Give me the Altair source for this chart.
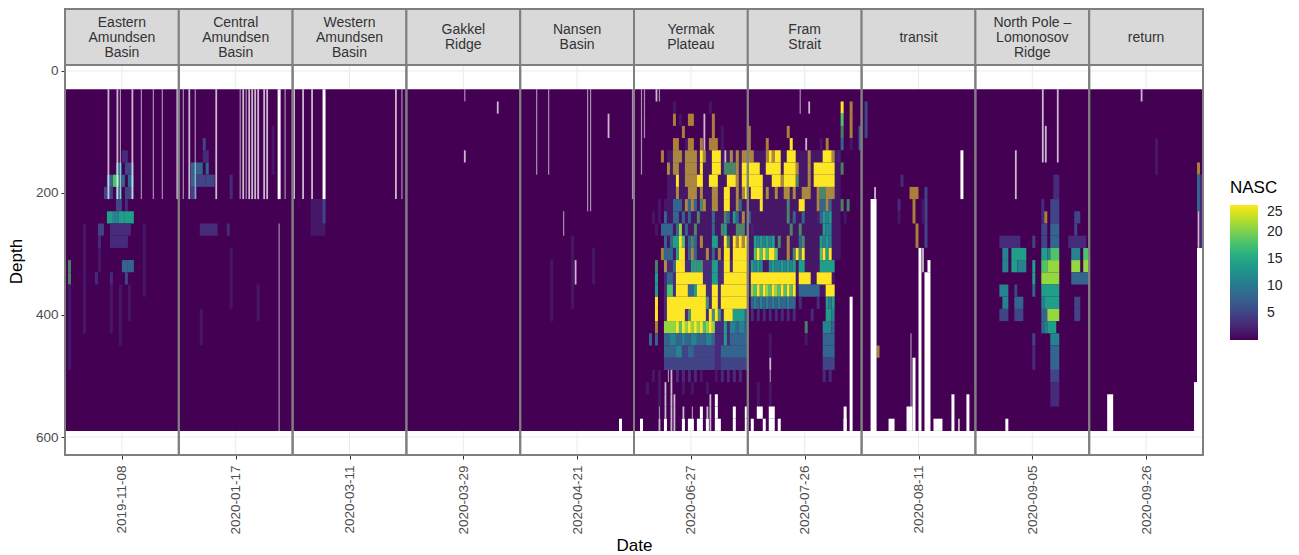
import altair as alt
import pandas as pd

PANELS = ["Eastern\nAmundsen\nBasin", "Central\nAmundsen\nBasin", "Western\nAmundsen\nBasin",
          "Gakkel\nRidge", "Nansen\nBasin", "Yermak\nPlateau", "Fram\nStrait", "transit",
          "North Pole –\nLomonosov\nRidge", "return"]
DATES = ["2019-11-08", "2020-01-17", "2020-03-11", "2020-03-29", "2020-04-21",
         "2020-06-27", "2020-07-26", "2020-08-11", "2020-09-05", "2020-09-26"]
DEPTH_TICKS = [0, 200, 400, 600]
LEGEND_VALUES = [5, 10, 15, 20, 25]
N_COLS = 38
DEPTH_TOP = 30
ROW_STEP = 20
N_ROWS = 28

# cell codes: digits = NASC class; o/h/f = soft (partly covered) columns; W/w/v = missing data (wide to thin)
NASC_OF = {"1": 3, "2": 5, "3": 8, "4": 11, "5": 14, "6": 18, "7": 21, "8": 25, "o": 25, "h": 18, "f": 3}
CELL_OPACITY = {"o": 0.55, "h": 0.65, "f": 0.5}
WIDTH_OF = {"W": 1.0, "w": 0.6, "v": 0.4}
GAP_OPACITY = {"W": 1.0, "w": 0.72, "v": 0.55}

YERMAK_ROWS = [
    "..vv...wv",
    "..vv.........f...........f",
    "..vv.........o.f..oo...w..o",
    "..vv............o......w..o..f",
    "..v..........oo..foo..ow.ooo.f",
    "..v......o...ooo.oooo.8o..888.w.o.o.oo",
    "..v........o.oo..oooo.8...888.hhhho.88",
    "..............8..oooo88..888...888o.88",
    "..............o...ooo.o...oo..88..o.o8",
    "........f.f..333.o3o3.ho..oo..88..o3",
    "......f.f.3..33.3.3..h....3...h3.53.o",
    ".......f.3333.37.3..h.....3..h5...hhh",
    "..........3.35586.3h3.o...55..8h.8o8o8",
    ".........o333.588.3o3...o.3.o.88.88888",
    ".......h..o..3888..5h5h...55..88.88888",
    ".......5...33.888888888...55..88888888",
    ".......5...66.8888335888..88.888888888",
    ".......8...8888888888888h.88.888888888",
    ".......8...888888.h88888.8h8h.88855553",
    ".......o..77778687878786787...5.443443",
    ".....3.3..33443343344333443...5.333333",
    "..........33334422332222222..333333333",
    "..........22222222222222222..222222222",
    "......f.f..vw.1.1.1.1.f....f.1.1.1.1",
    "....f...f.w.w...f..f....f",
    "........f.w.ww...........w.W",
    "........v.w.ww..w..v..W.ww.W.....W...W",
    "..W.....w.W.ww..W.WW.WW.Ww.WW....W...W",
]
YERMAK_UNDER = [(11, 37, 5, 13, "f"), (10, 37, 14, 19, "1"), (10, 37, 20, 22, "1")]

FRAM_ROWS = [
    ".................v",
    ".................v..w..........8..o",
    "...............................6..o",
    "o............o.................h..o..3",
    "o.....o.......8....w....f.o....3..f..3",
    "oo....o8o88..888....o....888o.f",
    "8888..88888.8888o...o.8888888..h",
    "88888...888o8888h...o.8888888",
    ".8888.o..o..oo.o..ooo..ohhooo",
    "....8........h...88....o33o3...h.h",
    "3............h.3..3....f3545....f",
    ".f............h..h.......544",
    "..5454545.h..o...3h.....5454",
    "..68686886...o.h8h8.....6858",
    ".5454..454454545.55.....55555",
    ".888888888888888.8888..88888",
    ".768687687686868.3333333..888",
    ".343434343433433.1.....1..545",
    ".1.1.1.1.1.1.1.1.....1....554",
    "...................h.....4443",
    ".......f...........f.....3333",
    ".......f.................3333",
    ".......w.................2222",
    ".......v.................1.1.",
    "...f...f",
    "...f...f",
    "...WW..WW",
    ".W...W.WW.W.....................W",
]
FRAM_UNDER = [(0, 30, 5, 13, "f"), (0, 28, 14, 16, "f")]
FRAM_PATCHES = [(34, 34, 17, 27, "W"), (32, 32, 26, 27, "W")]

# patches: first column, last column, first row, last row, code
EASTERN_PATCHES = [
    (19, 20, 5, 5, "1"), (17, 18, 6, 6, "3"), (20, 22, 6, 6, "2"), (14, 15, 7, 7, "3"), (16, 17, 7, 7, "6"),
    (18, 19, 7, 7, "3"), (21, 22, 7, 7, "3"), (13, 15, 8, 8, "2"), (17, 18, 8, 8, "3"), (20, 22, 8, 8, "2"),
    (17, 18, 9, 9, "2"), (20, 20, 9, 9, "1"), (14, 15, 10, 10, "5"), (16, 17, 10, 10, "4"), (18, 19, 10, 10, "5"),
    (20, 22, 10, 10, "5"), (11, 12, 11, 11, "2"), (15, 21, 11, 11, "1"), (11, 11, 12, 12, "1"), (15, 20, 12, 12, "1"),
    (11, 11, 13, 14, "f"), (19, 20, 14, 14, "3"), (21, 22, 14, 14, "3"), (1, 1, 14, 14, "h"), (1, 1, 15, 15, "h"),
    (10, 10, 15, 15, "1"), (15, 15, 15, 15, "1"), (20, 20, 15, 15, "2"), (1, 1, 16, 22, "f"), (15, 15, 16, 19, "f"),
    (18, 18, 16, 20, "f"), (21, 21, 16, 18, "f"), (26, 26, 11, 16, "f"), (6, 6, 11, 19, "f"),
    (14, 14, 0, 8, "w"), (17, 17, 0, 8, "w"), (18, 18, 0, 8, "v"), (22, 22, 0, 8, "w"), (25, 25, 0, 8, "v"),
    (29, 29, 0, 8, "v"), (32, 32, 0, 8, "v"), (37, 37, 0, 8, "w"),
]
CENTRAL_PATCHES = [
    (8, 8, 4, 4, "2"), (8, 9, 5, 5, "1"), (4, 7, 6, 6, "3"), (9, 9, 6, 6, "3"), (31, 31, 3, 6, "f"),
    (4, 5, 7, 7, "3"), (6, 8, 7, 7, "2"), (9, 11, 7, 7, "2"), (4, 5, 8, 8, "2"), (17, 17, 7, 8, "1"),
    (7, 12, 11, 11, "1"), (16, 16, 11, 11, "1"), (17, 17, 13, 17, "f"), (7, 7, 18, 20, "f"), (26, 26, 16, 18, "f"),
    (1, 1, 0, 8, "v"), (3, 3, 0, 8, "w"), (5, 5, 0, 8, "v"), (12, 12, 0, 8, "w"), (20, 20, 0, 8, "v"),
    (21, 21, 0, 8, "w"), (22, 22, 0, 8, "v"), (23, 24, 0, 8, "w"), (25, 26, 0, 8, "w"), (28, 28, 0, 8, "w"),
    (29, 29, 0, 8, "w"), (33, 33, 0, 8, "W"), (35, 35, 0, 8, "v"), (33, 33, 11, 27, "v"),
]
WESTERN_PATCHES = [
    (6, 10, 9, 11, "f"), (10, 10, 9, 10, "2"), (0, 0, 0, 8, "w"), (3, 3, 0, 8, "w"), (6, 6, 0, 8, "w"),
    (10, 10, 0, 8, "W"), (34, 34, 0, 8, "w"), (36, 36, 0, 8, "v"),
]
GAKKEL_PATCHES = [(19, 19, 5, 5, "w"), (30, 30, 1, 1, "w"), (19, 19, 0, 0, "v")]
NANSEN_PATCHES = [
    (5, 5, 0, 6, "v"), (9, 9, 0, 6, "v"), (22, 22, 0, 9, "v"), (23, 23, 0, 9, "v"), (29, 29, 2, 3, "w"),
    (37, 37, 0, 8, "v"), (18, 18, 14, 15, "w"), (33, 33, 27, 27, "W"), (14, 14, 10, 11, "v"),
    (10, 10, 14, 18, "f"), (17, 17, 12, 17, "f"), (24, 24, 13, 15, "f"),
]
TRANSIT_PATCHES = [
    (1, 1, 1, 3, "2"), (13, 13, 7, 7, "1"), (12, 12, 9, 9, "1"), (12, 12, 10, 10, "f"), (16, 18, 8, 8, "o"),
    (17, 17, 9, 10, "o"), (21, 21, 8, 12, "2"), (18, 18, 11, 12, "o"), (5, 5, 21, 21, "o"), (20, 20, 9, 10, "f"),
    (3, 4, 9, 27, "W"), (4, 4, 8, 8, "w"), (19, 19, 13, 27, "W"), (20, 20, 13, 14, "w"), (21, 22, 15, 27, "W"),
    (22, 22, 14, 14, "W"), (17, 17, 22, 27, "W"), (16, 16, 20, 27, "v"), (15, 16, 26, 27, "W"), (9, 10, 27, 27, "W"),
    (24, 26, 27, 27, "W"), (30, 30, 25, 27, "W"), (32, 32, 27, 27, "w"), (35, 35, 25, 27, "W"), (33, 33, 5, 8, "W"),
]
NORTHPOLE_PATCHES = [
    (26, 27, 7, 8, "1"), (22, 22, 9, 10, "1"), (25, 27, 9, 10, "2"), (23, 23, 10, 10, "o"), (33, 34, 10, 10, "2"),
    (22, 23, 11, 11, "2"), (25, 27, 11, 11, "3"), (33, 33, 11, 11, "2"), (8, 14, 12, 12, "1"), (19, 19, 12, 12, "2"),
    (22, 23, 12, 12, "2"), (25, 27, 12, 12, "3"), (31, 36, 12, 12, "1"), (9, 10, 13, 13, "4"), (12, 16, 13, 13, "5"),
    (22, 23, 13, 13, "5"), (24, 24, 13, 13, "4"), (25, 27, 13, 13, "6"), (32, 34, 13, 13, "4"), (36, 37, 13, 13, "6"),
    (9, 10, 14, 14, "4"), (12, 13, 14, 14, "5"), (14, 16, 14, 14, "4"), (19, 19, 14, 14, "5"), (22, 23, 14, 14, "6"),
    (24, 27, 14, 14, "7"), (32, 34, 14, 14, "7"), (36, 37, 14, 14, "7"), (19, 19, 15, 15, "5"), (22, 27, 15, 15, "7"),
    (32, 37, 15, 15, "3"), (8, 10, 16, 16, "4"), (13, 13, 16, 16, "2"), (19, 19, 16, 16, "3"), (22, 27, 16, 16, "5"),
    (9, 10, 17, 17, "4"), (13, 15, 17, 17, "3"), (22, 22, 17, 17, "4"), (23, 27, 17, 17, "5"), (33, 34, 17, 17, "2"),
    (8, 10, 18, 18, "2"), (13, 15, 18, 18, "2"), (22, 23, 18, 18, "3"), (24, 27, 18, 18, "7"), (33, 34, 18, 18, "2"),
    (22, 22, 19, 19, "3"), (23, 23, 19, 19, "4"), (24, 26, 19, 19, "5"), (19, 19, 20, 20, "2"), (25, 27, 20, 20, "4"),
    (19, 19, 21, 22, "1"), (25, 27, 21, 22, "3"), (25, 27, 23, 23, "2"), (25, 27, 24, 25, "1"),
    (10, 10, 27, 27, "W"), (13, 13, 5, 8, "w"), (22, 22, 0, 5, "w"), (27, 27, 0, 5, "w"), (23, 23, 3, 5, "w"),
]
RETURN_PATCHES = [
    (17, 17, 0, 0, "w"), (22, 22, 4, 6, "f"), (36, 36, 6, 6, "o"), (36, 36, 7, 9, "3"), (36, 36, 10, 12, "w"),
    (36, 37, 13, 27, "W"), (35, 35, 24, 27, "W"), (6, 7, 25, 27, "W"), (37, 37, 7, 12, "1"),
]


def expand(rows):
    """Turn string rows into run-length patches."""
    out = []
    for r, row in enumerate(rows):
        row = row.ljust(N_COLS, ".")[:N_COLS]
        c = 0
        while c < N_COLS:
            ch = row[c]
            e = c
            if ch != ".":
                while e + 1 < N_COLS and row[e + 1] == ch:
                    e += 1
                out.append((c, e, r, r, ch))
            c = e + 1
    return out


PATCHES = [EASTERN_PATCHES, CENTRAL_PATCHES, WESTERN_PATCHES, GAKKEL_PATCHES, NANSEN_PATCHES,
           YERMAK_UNDER + expand(YERMAK_ROWS), FRAM_UNDER + expand(FRAM_ROWS) + FRAM_PATCHES,
           TRANSIT_PATCHES, NORTHPOLE_PATCHES, RETURN_PATCHES]

cells, gaps = [], []
for p in range(len(PANELS)):
    cells.append(dict(x=p, x2=p + 1, y=DEPTH_TOP, y2=DEPTH_TOP + N_ROWS * ROW_STEP, NASC=0, op=1.0))
for p, patches in enumerate(PATCHES):
    for c0, c1, r0, r1, code in patches:
        frac = WIDTH_OF.get(code, 1.0)
        y0 = DEPTH_TOP + r0 * ROW_STEP
        y1 = DEPTH_TOP + (r1 + 1) * ROW_STEP
        if frac == 1.0:
            spans = [(c0, c1 + 1)]
        else:
            spans = [(c + 0.5 - frac / 2, c + 0.5 + frac / 2) for c in range(c0, c1 + 1)]
        for s0, s1 in spans:
            rec = dict(x=p + s0 / N_COLS, x2=p + s1 / N_COLS, y=y0, y2=y1)
            if code in GAP_OPACITY:
                gaps.append(dict(rec, op=GAP_OPACITY[code]))
            else:
                cells.append(dict(rec, NASC=NASC_OF[code], op=CELL_OPACITY.get(code, 1.0)))

STRIP_TOP, STRIP_BOTTOM, PANEL_BOTTOM = -101.6, -9.8, 629.5
FIRST_LINE_Y = {1: -54.0, 2: -66.5, 3: -79.0}
frame = pd.DataFrame([dict(x=p, x2=p + 1, c=p + 0.5, label=PANELS[p], top=STRIP_TOP, mid=STRIP_BOTTOM,
                           bot=PANEL_BOTTOM, ly=FIRST_LINE_Y[PANELS[p].count("\n") + 1])
                      for p in range(len(PANELS))])

x_scale = alt.Scale(domain=[0, len(PANELS)], nice=False, zero=False)
y_scale = alt.Scale(domain=[STRIP_TOP, PANEL_BOTTOM], reverse=True, nice=False, zero=False)
date_js = "[" + ",".join(f"'{d}'" for d in DATES) + "]"
x_axis = alt.Axis(
    values=[p + 0.5 for p in range(len(PANELS))], labelExpr=date_js + "[floor(datum.value)]",
    title="Date", labelAngle=270, labelFontSize=13.5, labelColor="#4d4d4d", tickColor="#333333", tickSize=4,
    titleFontSize=17, titleFontWeight="normal", titleColor="#000000", grid=False, domain=False,
    labelOverlap=False, labelPadding=6, titleY=90, titleBaseline="middle", titleX=569)
y_axis = alt.Axis(
    values=DEPTH_TICKS, title="Depth", labelFontSize=13.5, labelColor="#4d4d4d", tickColor="#333333", tickSize=4,
    titleFontSize=17, titleFontWeight="normal", titleColor="#000000", grid=False, domain=False,
    titleX=-40, titleY=252, labelPadding=3)


def X(field):
    return alt.X(field, scale=x_scale, axis=x_axis)


def Y(field):
    return alt.Y(field, scale=y_scale, axis=y_axis)


vgrid = alt.Chart(frame).mark_rule(color="#ebebeb", strokeWidth=1).encode(x=X("c:Q"), y=Y("mid:Q"), y2="bot:Q")
hgrid = alt.Chart(pd.DataFrame(dict(d=[0, 600], a=[0, 0], b=[10, 10]))).mark_rule(color="#ebebeb", strokeWidth=1).encode(
    x=X("a:Q"), x2="b:Q", y=Y("d:Q"))

heat = alt.Chart(pd.DataFrame(cells)).mark_rect(strokeWidth=0).encode(
    x=X("x:Q"), x2="x2:Q", y=Y("y:Q"), y2="y2:Q",
    opacity=alt.Opacity("op:Q", scale=None, legend=None),
    color=alt.Color("NASC:Q", scale=alt.Scale(scheme="viridis", domain=[0, 25]),
                    legend=alt.Legend(title="NASC", orient="none", legendX=1165, legendY=171,
                                      gradientLength=135, gradientThickness=28, values=LEGEND_VALUES,
                                      titleFontSize=17, titleFontWeight="normal", titleColor="#000000",
                                      labelFontSize=14, labelColor="#222222", titlePadding=8, labelOffset=9)))
holes = alt.Chart(pd.DataFrame(gaps)).mark_rect(color="#ffffff", strokeWidth=0).encode(
    x=X("x:Q"), x2="x2:Q", y=Y("y:Q"), y2="y2:Q",
    opacity=alt.Opacity("op:Q", scale=None, legend=None))
strips = alt.Chart(frame).mark_rect(fill="#d9d9d9", stroke="#7f7f7f", strokeWidth=2).encode(
    x=X("x:Q"), x2="x2:Q", y=Y("top:Q"), y2="mid:Q")
borders = alt.Chart(frame).mark_rect(fillOpacity=0, stroke="#7f7f7f", strokeWidth=2).encode(
    x=X("x:Q"), x2="x2:Q", y=Y("mid:Q"), y2="bot:Q")
labels = alt.Chart(frame).mark_text(lineBreak="\n", fontSize=14, color="#333333", lineHeight=15,
                                    baseline="middle", align="center").encode(
    x=X("c:Q"), y=Y("ly:Q"), text="label:N")

chart = alt.layer(vgrid, hgrid, heat, holes, strips, borders, labels).properties(
    width=1138, height=446,
    autosize=alt.AutoSizeParams(type="none"),
    padding={"left": 57, "top": 1, "right": 80, "bottom": 98},
).configure_view(stroke=None, fill="#ffffff").configure(font="Liberation Sans")

chart.save("out.html", embed_options={"renderer": "svg", "actions": False})
